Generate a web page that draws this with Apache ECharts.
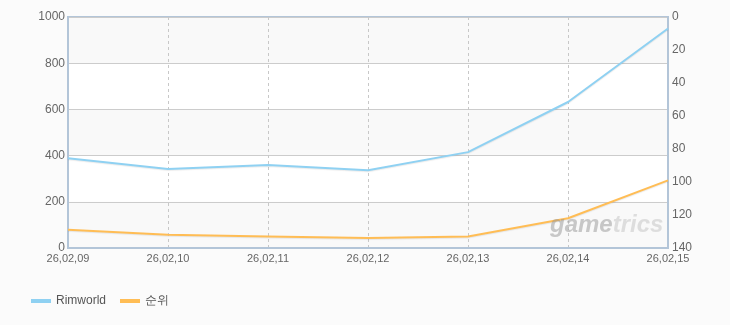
<!DOCTYPE html>
<html><head><meta charset="utf-8">
<script src="https://cdn.jsdelivr.net/npm/echarts@6/dist/echarts.min.js"></script>
<style>html,body{margin:0;padding:0;background:#fbfbfb;}#c{width:730px;height:325px;}</style>
</head><body><div id="c"></div>
<script>
var categories = ['26,02,09','26,02,10','26,02,11','26,02,12','26,02,13','26,02,14','26,02,15'];
var rimworld = [389, 342, 359, 337, 415, 632, 950];
var rank = [129, 132, 133, 134, 133, 122, 99];
var leftTicks = [0, 200, 400, 600, 800, 1000];
var rightTicks = [0, 20, 40, 60, 80, 100, 120, 140];

var chart = echarts.init(document.getElementById('c'));
var axisColor = '#b3c5d8';
var font = 'Liberation Sans, DejaVu Sans, sans-serif';
chart.setOption({
  backgroundColor: '#fbfbfb',
  animation: false,
  grid: {left: 68, right: 62, top: 17, bottom: 77, show: true, borderColor: axisColor, borderWidth: 2, backgroundColor: 'transparent'},
  legend: {
    left: 26, bottom: 13, itemWidth: 20, itemHeight: 4, itemGap: 14,
    icon: 'rect',
    textStyle: {color: '#555', fontSize: 12, fontFamily: font},
    data: ['Rimworld', '순위']
  },
  graphic: [{
    type: 'text', left: 550, top: 213, silent: true, z: 100,
    style: {
      text: '{a|game}{b|trics}',
      rich: {
        a: {fill: 'rgba(150,150,150,0.5)', fontSize: 24, fontStyle: 'italic', fontWeight: 'bold', fontFamily: 'Liberation Sans'},
        b: {fill: 'rgba(170,170,170,0.35)', fontSize: 24, fontStyle: 'italic', fontWeight: 'bold', fontFamily: 'Liberation Sans'}
      }
    }
  }],
  xAxis: {
    type: 'category', boundaryGap: false, data: categories,
    axisLine: {lineStyle: {color: axisColor, width: 2}},
    axisTick: {show: false},
    axisLabel: {color: '#666', fontSize: 11, fontFamily: font, margin: 5},
    splitLine: {show: true, lineStyle: {color: '#c8c8c8', type: [3, 3], width: 1}}
  },
  yAxis: [{
    type: 'value', min: leftTicks[0], max: leftTicks[leftTicks.length-1], interval: 200,
    axisLine: {show: true, lineStyle: {color: axisColor, width: 2}},
    axisTick: {show: false},
    axisLabel: {color: '#666', fontSize: 12, fontFamily: font, margin: 3, formatter: function(v){return String(v);}},
    splitLine: {lineStyle: {color: '#cccccc', width: 1}},
    splitArea: {show: true, areaStyle: {color: ['#f9f9f9', '#ffffff']}}
  }, {
    type: 'value', inverse: true, min: rightTicks[0], max: rightTicks[rightTicks.length-1], interval: 20,
    axisLine: {show: true, lineStyle: {color: axisColor, width: 2}},
    axisTick: {show: false},
    axisLabel: {color: '#666', fontSize: 12, fontFamily: font, margin: 4},
    splitLine: {show: false}
  }],
  series: [{
    name: 'Rimworld', type: 'line', data: rimworld, yAxisIndex: 0,
    symbol: 'none', color: '#8fd1f2',
    lineStyle: {width: 2, color: '#8fd1f2', shadowColor: 'rgba(0,0,0,0.08)', shadowOffsetY: 1, shadowBlur: 1}
  }, {
    name: '순위', type: 'line', data: rank, yAxisIndex: 1,
    symbol: 'none', color: '#ffbd55',
    lineStyle: {width: 2, color: '#ffbd55', shadowColor: 'rgba(0,0,0,0.08)', shadowOffsetY: 1, shadowBlur: 1}
  }]
});
</script></body></html>
